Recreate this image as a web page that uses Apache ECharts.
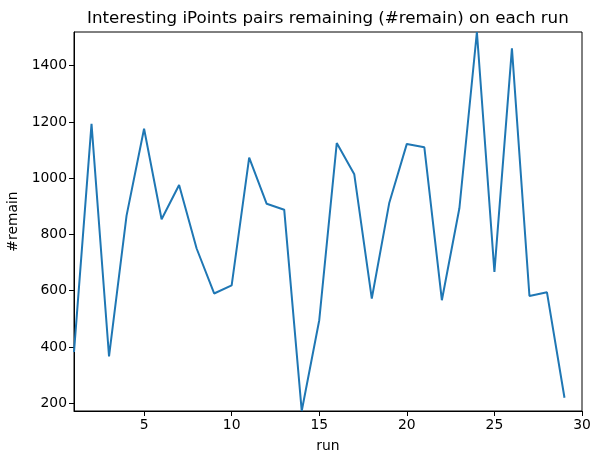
<!DOCTYPE html>
<html>
<head>
<meta charset="utf-8">
<script src="https://cdn.jsdelivr.net/npm/echarts@6/dist/echarts.min.js"></script>
<style>html,body{margin:0;padding:0;background:#fff}#c{width:590px;height:453px}</style>
</head>
<body>
<div id="c"></div>
<script>
const runs = [1,2,3,4,5,6,7,8,9,10,11,12,13,14,15,16,17,18,19,20,21,22,23,24,25,26,27,28,29];
const remain = [382,1193,366,867,1176,854,976,750,590,619,1073,909,888,172,495,1125,1014,572,913,1122,1110,566,893,1520,667,1462,581,594,219];
const xTicks = [5,10,15,20,25,30];
const yTicks = [200,400,600,800,1000,1200,1400];
const xMin = 1, xMax = 30;
const yMin = 172, yMax = 1520;

const font = 'DejaVu Sans';
const chart = echarts.init(document.getElementById('c'));
chart.setOption({
  animation: false,
  title: {
    text: 'Interesting iPoints pairs remaining (#remain) on each run',
    left: 82, top: 5,
    textStyle: {fontFamily: font, fontSize: 16.7, fontWeight: 'normal', color: '#000'}
  },
  grid: {left: 74, right: 8, top: 32, bottom: 42, show: true, borderColor: '#000', borderWidth: 1, backgroundColor: 'transparent', outerBoundsMode: 'none', containLabel: false},
  xAxis: {
    type: 'value', min: xMin, max: xMax,
    name: 'run', nameLocation: 'middle', nameGap: 28,
    nameTextStyle: {fontFamily: font, fontSize: 13.9, color: '#000'},
    axisLine: {show: true, lineStyle: {color: '#000', width: 1}},
    axisTick: {show: true, customValues: xTicks, length: 5, lineStyle: {color: '#000'}},
    axisLabel: {customValues: xTicks, fontFamily: font, fontSize: 13.9, color: '#000', margin: 7, formatter: v => String(v)},
    splitLine: {show: false}
  },
  yAxis: {
    type: 'value', min: yMin, max: yMax,
    name: '#remain', nameLocation: 'middle', nameGap: 53,
    nameTextStyle: {fontFamily: font, fontSize: 13.9, color: '#000'},
    axisLine: {show: true, lineStyle: {color: '#000', width: 1}},
    axisTick: {show: true, customValues: yTicks, length: 5, lineStyle: {color: '#000'}},
    axisLabel: {customValues: yTicks, fontFamily: font, fontSize: 13.9, color: '#000', margin: 7, formatter: v => String(v)},
    splitLine: {show: false}
  },
  series: [{
    type: 'line',
    data: runs.map((r, i) => [r, remain[i]]),
    showSymbol: false,
    lineStyle: {color: '#1f77b4', width: 2},
    clip: true
  }]
});
</script>
</body>
</html>
